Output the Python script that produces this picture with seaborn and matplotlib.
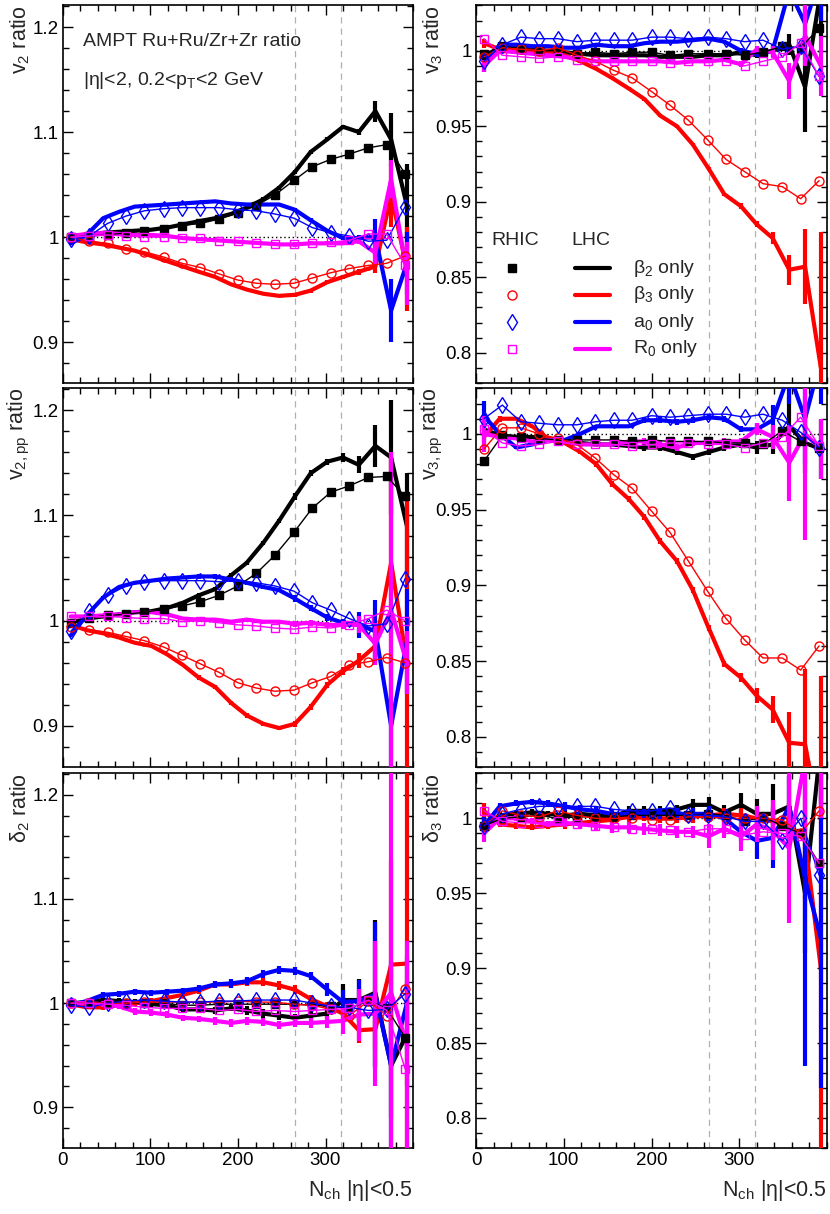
import matplotlib
matplotlib.use('Agg')
import matplotlib.pyplot as plt
from matplotlib.ticker import MultipleLocator, FormatStrFormatter
import seaborn as sns

# N_ch bin centres
x_rhic = [9, 30, 51, 72, 93, 115, 136, 157, 178, 200, 221, 242, 264, 285, 306, 327, 349, 370, 391]
x_lhc = [9, 27, 46, 64, 82, 101, 119, 137, 155, 174, 192, 210, 229, 247, 265, 283, 302, 320, 338, 357, 375, 393]

# ---- v2 ratio ----
v2_rhic_b2 = [1.000, 1.001, 1.002, 1.004, 1.006, 1.008, 1.011, 1.013, 1.017, 1.023, 1.030, 1.040, 1.054, 1.067, 1.074, 1.079, 1.085, 1.088, 1.060]
v2_rhic_b3 = [1.000, 0.996, 0.994, 0.989, 0.986, 0.981, 0.975, 0.971, 0.965, 0.959, 0.956, 0.955, 0.956, 0.961, 0.966, 0.970, 0.973, 0.975, 0.982]
v2_rhic_a0 = [0.998, 1.001, 1.013, 1.020, 1.025, 1.027, 1.028, 1.028, 1.028, 1.026, 1.025, 1.022, 1.018, 1.009, 1.004, 1.001, 0.996, 0.997, 1.029]
v2_rhic_r0 = [1.000, 1.001, 1.002, 1.001, 1.000, 1.000, 0.999, 0.999, 0.996, 0.996, 0.994, 0.993, 0.993, 0.994, 0.995, 0.997, 1.003, 1.003, 0.973]
v2_lhc_b2 = [1.000, 1.002, 1.004, 1.005, 1.006, 1.007, 1.009, 1.012, 1.015, 1.018, 1.022, 1.028, 1.036, 1.047, 1.062, 1.081, 1.093, 1.105, 1.100, 1.120, 1.093, 1.030]
v2_lhc_b3 = [0.998, 0.995, 0.993, 0.990, 0.987, 0.982, 0.977, 0.972, 0.967, 0.962, 0.955, 0.950, 0.946, 0.944, 0.945, 0.949, 0.957, 0.962, 0.967, 0.972, 1.040, 0.970]
v2_lhc_a0 = [0.994, 1.002, 1.018, 1.024, 1.029, 1.030, 1.031, 1.032, 1.033, 1.034, 1.032, 1.031, 1.031, 1.031, 1.026, 1.016, 1.006, 0.999, 0.999, 1.000, 0.930, 0.975]
v2_lhc_r0 = [1.001, 1.003, 1.004, 1.003, 1.002, 1.002, 1.001, 0.999, 0.998, 0.997, 0.996, 0.995, 0.994, 0.993, 0.993, 0.994, 0.994, 0.994, 0.996, 0.985, 1.055, 0.965]
v2_err_b2 = [.001, .001, .001, .001, .001, .001, .001, .001, .001, .001, .001, .001, .002, .002, .002, .002, .002, .002, .003, .010, .025, .040]
v2_err_b3 = [.001, .001, .001, .001, .001, .001, .001, .001, .001, .001, .001, .001, .001, .001, .002, .002, .002, .002, .003, .006, .030, .040]
v2_err_a0 = [.001, .001, .001, .001, .001, .001, .001, .001, .001, .001, .001, .001, .001, .001, .002, .002, .002, .002, .003, .017, .030, .030]
v2_err_r0 = [.001, .001, .001, .001, .001, .001, .001, .001, .001, .001, .001, .001, .001, .001, .002, .002, .002, .002, .003, .012, .018, .030]

# ---- v2,pp ratio ----
v2pp_rhic_b2 = [0.998, 1.003, 1.005, 1.006, 1.008, 1.011, 1.014, 1.018, 1.024, 1.033, 1.045, 1.062, 1.084, 1.107, 1.122, 1.128, 1.136, 1.137, 1.118]
v2pp_rhic_b3 = [0.994, 0.991, 0.989, 0.985, 0.981, 0.975, 0.967, 0.959, 0.951, 0.941, 0.936, 0.933, 0.934, 0.941, 0.947, 0.958, 0.961, 0.965, 0.960]
v2pp_rhic_a0 = [0.990, 1.009, 1.024, 1.033, 1.037, 1.038, 1.038, 1.038, 1.037, 1.038, 1.036, 1.033, 1.028, 1.017, 1.010, 1.002, 0.995, 0.997, 1.040]
v2pp_rhic_r0 = [1.004, 1.004, 1.004, 1.003, 1.002, 1.002, 0.999, 1.000, 0.998, 0.996, 0.995, 0.993, 0.992, 0.994, 0.993, 0.996, 1.002, 1.010, 1.000]
v2pp_lhc_b2 = [0.998, 1.002, 1.004, 1.006, 1.008, 1.009, 1.012, 1.017, 1.024, 1.030, 1.043, 1.055, 1.074, 1.095, 1.118, 1.140, 1.151, 1.155, 1.148, 1.166, 1.155, 1.090]
v2pp_lhc_b3 = [0.996, 0.991, 0.988, 0.984, 0.979, 0.976, 0.968, 0.958, 0.946, 0.937, 0.922, 0.910, 0.902, 0.898, 0.902, 0.918, 0.939, 0.952, 0.962, 0.976, 1.055, 0.960]
v2pp_lhc_a0 = [0.986, 1.005, 1.022, 1.032, 1.036, 1.038, 1.040, 1.041, 1.042, 1.042, 1.039, 1.036, 1.032, 1.029, 1.021, 1.012, 1.003, 0.998, 0.996, 0.990, 0.900, 0.980]
v2pp_lhc_r0 = [1.004, 1.004, 1.005, 1.006, 1.008, 1.008, 1.006, 1.002, 1.001, 1.001, 0.999, 1.001, 0.999, 0.999, 0.997, 0.998, 0.996, 0.996, 0.996, 0.978, 1.010, 0.960]
v2pp_err_b2 = [.001, .001, .001, .001, .001, .001, .001, .001, .002, .002, .002, .002, .002, .002, .003, .003, .003, .004, .008, .020, .055, .050]
v2pp_err_b3 = [.001, .001, .001, .001, .001, .001, .001, .001, .002, .002, .002, .002, .002, .002, .003, .003, .003, .004, .007, .012, .100, .160]
v2pp_err_a0 = [.001, .001, .001, .001, .001, .001, .001, .001, .002, .002, .002, .002, .002, .002, .003, .003, .003, .004, .012, .030, .060, .050]
v2pp_err_r0 = [.001, .001, .001, .001, .001, .001, .001, .001, .002, .002, .002, .002, .002, .002, .003, .003, .003, .004, .008, .020, .150, .030]

# ---- delta2 ratio ----
d2_rhic_b2 = [1.000, 1.000, 1.000, 1.000, 1.000, 1.000, 0.998, 0.998, 0.999, 0.999, 0.999, 0.999, 0.999, 0.998, 0.997, 0.995, 1.002, 0.995, 0.967]
d2_rhic_b3 = [1.000, 1.000, 1.000, 1.000, 1.001, 1.001, 1.001, 1.001, 1.001, 1.002, 1.001, 1.001, 0.999, 0.998, 0.994, 0.988, 1.002, 0.988, 1.014]
d2_rhic_a0 = [0.998, 0.996, 1.000, 1.002, 1.003, 1.002, 1.001, 1.001, 1.002, 1.002, 1.003, 1.003, 1.003, 1.000, 0.997, 0.996, 0.993, 0.994, 1.009]
d2_rhic_r0 = [1.000, 1.000, 0.999, 0.998, 0.996, 0.995, 0.995, 0.995, 0.993, 0.994, 0.992, 0.993, 0.992, 0.993, 0.994, 0.995, 1.003, 0.993, 0.937]
d2_lhc_b2 = [1.000, 1.001, 1.003, 1.002, 1.001, 0.999, 0.998, 0.994, 0.994, 0.993, 0.995, 0.993, 0.990, 0.988, 0.986, 0.988, 0.990, 1.003, 1.003, 1.010, 0.940, 0.970]
d2_lhc_b3 = [0.999, 0.996, 0.996, 0.998, 1.000, 1.002, 1.005, 1.008, 1.012, 1.018, 1.018, 1.020, 1.020, 1.017, 1.013, 1.004, 0.997, 0.990, 0.974, 0.975, 1.037, 1.038]
d2_lhc_a0 = [0.998, 1.002, 1.008, 1.009, 1.011, 1.010, 1.011, 1.012, 1.014, 1.018, 1.019, 1.021, 1.028, 1.032, 1.031, 1.026, 1.013, 1.001, 1.002, 1.008, 0.940, 1.000]
d2_lhc_r0 = [1.000, 1.000, 0.999, 0.997, 0.992, 0.991, 0.989, 0.986, 0.985, 0.983, 0.981, 0.983, 0.982, 0.979, 0.981, 0.981, 0.982, 0.983, 0.989, 0.990, 1.010, 0.960]
d2_err_b2 = [.002, .002, .003, .003, .003, .003, .003, .003, .003, .003, .003, .004, .004, .004, .004, .004, .004, .015, .020, .070, .050, .050]
d2_err_b3 = [.002, .002, .003, .003, .003, .003, .003, .003, .003, .003, .003, .004, .004, .004, .004, .004, .004, .006, .012, .020, .100, .250]
d2_err_a0 = [.002, .002, .003, .003, .003, .003, .003, .003, .003, .003, .004, .004, .004, .004, .004, .004, .006, .012, .020, .070, .100, .045]
d2_err_r0 = [.002, .002, .003, .003, .003, .003, .003, .003, .003, .004, .004, .004, .004, .004, .004, .005, .006, .013, .025, .070, .250, .100]

# ---- v3 ratio ----
v3_rhic_b2 = [0.998, 1.003, 1.001, 1.000, 1.000, 0.998, 0.999, 0.998, 0.999, 0.999, 0.997, 0.998, 0.998, 0.998, 0.997, 0.999, 1.003, 1.002, 1.015]
v3_rhic_b3 = [0.996, 1.002, 1.001, 1.000, 1.002, 0.997, 0.993, 0.987, 0.982, 0.973, 0.964, 0.954, 0.941, 0.928, 0.920, 0.912, 0.910, 0.902, 0.914]
v3_rhic_a0 = [0.993, 1.004, 1.009, 1.008, 1.008, 1.006, 1.007, 1.007, 1.007, 1.009, 1.009, 1.008, 1.009, 1.008, 1.006, 1.007, 1.001, 1.003, 0.983]
v3_rhic_r0 = [1.008, 0.997, 0.996, 0.995, 0.996, 0.994, 0.993, 0.993, 0.993, 0.993, 0.992, 0.993, 0.993, 0.993, 0.990, 0.993, 0.996, 1.005, 0.983]
v3_lhc_b2 = [0.995, 1.003, 1.002, 1.001, 1.000, 0.999, 0.998, 0.997, 0.997, 0.997, 0.997, 0.996, 0.996, 0.996, 0.997, 0.997, 0.999, 0.997, 1.000, 1.004, 0.976, 1.040]
v3_lhc_b3 = [1.005, 1.001, 1.000, 1.000, 0.999, 0.997, 0.993, 0.988, 0.982, 0.975, 0.968, 0.957, 0.950, 0.938, 0.922, 0.905, 0.897, 0.885, 0.876, 0.855, 0.857, 0.790]
v3_lhc_a0 = [0.990, 1.004, 1.004, 1.003, 1.003, 1.002, 1.002, 1.004, 1.003, 1.003, 1.005, 1.006, 1.006, 1.007, 1.008, 1.006, 1.000, 0.998, 1.000, 1.040, 1.018, 1.050]
v3_lhc_r0 = [0.990, 1.000, 0.999, 0.998, 0.997, 0.996, 0.994, 0.993, 0.993, 0.993, 0.993, 0.993, 0.992, 0.993, 0.993, 0.994, 0.991, 1.001, 0.999, 0.980, 1.010, 0.990]
v3_err_b2 = [.003, .001, .001, .001, .001, .001, .001, .001, .001, .001, .001, .001, .001, .001, .001, .001, .002, .002, .003, .007, .030, .030]
v3_err_b3 = [.003, .001, .001, .001, .001, .001, .001, .001, .001, .001, .001, .001, .001, .001, .001, .001, .002, .002, .004, .010, .025, .090]
v3_err_a0 = [.004, .001, .001, .001, .001, .001, .001, .001, .001, .001, .001, .001, .001, .001, .001, .001, .002, .002, .004, .010, .020, .030]
v3_err_r0 = [.004, .001, .001, .001, .001, .001, .001, .001, .001, .001, .001, .001, .001, .001, .001, .001, .002, .002, .004, .012, .020, .020]

# ---- v3,pp ratio ----
v3pp_rhic_b2 = [0.982, 0.999, 0.998, 0.997, 0.996, 0.996, 0.996, 0.996, 0.995, 0.996, 0.995, 0.995, 0.995, 0.994, 0.994, 0.993, 1.002, 0.995, 0.991]
v3pp_rhic_b3 = [0.990, 1.004, 1.004, 1.000, 0.997, 0.993, 0.984, 0.973, 0.964, 0.949, 0.935, 0.916, 0.896, 0.878, 0.864, 0.852, 0.852, 0.844, 0.860]
v3pp_rhic_a0 = [1.010, 1.019, 1.008, 1.007, 1.006, 1.006, 1.008, 1.009, 1.009, 1.012, 1.011, 1.012, 1.013, 1.013, 1.011, 1.013, 1.009, 1.001, 0.991]
v3pp_rhic_r0 = [1.003, 0.994, 0.992, 0.993, 0.995, 0.993, 0.993, 0.993, 0.992, 0.993, 0.994, 0.994, 0.993, 0.993, 0.991, 0.994, 0.998, 1.011, 0.992]
v3pp_lhc_b2 = [1.003, 0.999, 0.998, 0.998, 0.996, 0.995, 0.994, 0.993, 0.993, 0.992, 0.991, 0.991, 0.988, 0.985, 0.988, 0.991, 0.993, 0.991, 0.993, 1.005, 0.994, 0.990]
v3pp_lhc_b3 = [0.998, 1.010, 1.010, 1.005, 0.997, 0.994, 0.988, 0.980, 0.967, 0.957, 0.945, 0.929, 0.916, 0.897, 0.872, 0.848, 0.839, 0.827, 0.818, 0.796, 0.795, 0.740]
v3pp_lhc_a0 = [1.012, 1.000, 0.991, 0.993, 0.996, 0.996, 1.000, 1.005, 1.005, 1.005, 1.009, 1.009, 1.008, 1.009, 1.011, 1.010, 1.003, 1.003, 1.009, 1.040, 1.010, 1.050]
v3pp_lhc_r0 = [1.000, 0.998, 0.997, 0.995, 0.996, 0.995, 0.993, 0.993, 0.993, 0.995, 0.995, 0.993, 0.991, 0.994, 0.994, 0.995, 0.995, 1.003, 0.998, 0.981, 1.000, 0.990]
v3pp_err_b2 = [.004, .001, .001, .001, .001, .001, .001, .001, .001, .001, .002, .002, .002, .002, .002, .002, .002, .004, .006, .020, .020, .020]
v3pp_err_b3 = [.006, .002, .001, .001, .001, .001, .001, .002, .002, .002, .002, .002, .002, .002, .002, .002, .003, .005, .009, .020, .050, .100]
v3pp_err_a0 = [.010, .002, .001, .001, .001, .001, .001, .001, .001, .001, .002, .002, .002, .002, .002, .002, .002, .004, .010, .020, .030, .030]
v3pp_err_r0 = [.012, .002, .001, .001, .001, .001, .001, .001, .001, .001, .002, .002, .002, .002, .002, .002, .002, .004, .008, .025, .070, .020]

# ---- delta3 ratio ----
d3_rhic_b2 = [0.995, 1.000, 1.001, 1.002, 1.000, 1.001, 1.001, 1.001, 1.002, 1.002, 1.002, 1.002, 1.003, 1.002, 0.998, 1.001, 0.995, 0.990, 0.970]
d3_rhic_b3 = [0.995, 1.005, 1.002, 1.001, 1.005, 1.002, 1.000, 1.000, 1.000, 0.999, 0.999, 1.001, 1.001, 1.000, 1.000, 1.000, 0.999, 0.990, 1.005]
d3_rhic_a0 = [0.995, 1.003, 1.006, 1.008, 1.008, 1.008, 1.008, 1.006, 1.005, 1.005, 1.007, 1.002, 1.002, 1.001, 0.998, 0.998, 0.985, 1.000, 0.962]
d3_rhic_r0 = [1.005, 0.998, 0.997, 0.997, 0.998, 0.996, 0.995, 0.994, 0.993, 0.993, 0.992, 0.991, 0.993, 0.993, 0.989, 0.991, 0.990, 0.988, 0.970]
d3_lhc_b2 = [0.995, 1.002, 1.003, 1.004, 1.003, 1.002, 1.003, 1.002, 1.001, 1.005, 1.005, 1.005, 1.006, 1.009, 1.009, 1.004, 1.009, 1.003, 1.003, 1.008, 0.950, 1.050]
d3_lhc_b3 = [1.005, 0.996, 0.995, 0.994, 0.995, 0.996, 0.997, 0.998, 0.999, 1.001, 1.001, 1.000, 1.000, 1.001, 1.002, 1.003, 1.002, 1.000, 0.998, 0.995, 0.985, 0.900]
d3_lhc_a0 = [0.995, 1.008, 1.010, 1.011, 1.010, 1.008, 1.006, 1.005, 1.003, 1.003, 1.003, 1.003, 1.003, 1.003, 1.003, 1.000, 0.991, 0.985, 0.987, 1.008, 0.960, 0.920]
d3_lhc_r0 = [0.990, 1.000, 1.000, 0.998, 0.996, 0.997, 0.996, 0.995, 0.994, 0.994, 0.993, 0.992, 0.991, 0.991, 0.988, 0.993, 0.988, 0.996, 0.992, 0.980, 1.040, 1.050]
d3_err_b2 = [.004, .002, .002, .002, .002, .003, .003, .003, .003, .003, .003, .003, .003, .004, .005, .005, .008, .010, .020, .020, .040, .040]
d3_err_b3 = [.005, .002, .002, .002, .002, .003, .003, .003, .003, .003, .003, .003, .003, .004, .004, .004, .005, .006, .010, .015, .040, .150]
d3_err_a0 = [.006, .002, .002, .002, .002, .003, .003, .003, .003, .003, .003, .004, .004, .004, .005, .005, .006, .012, .020, .020, .125, .100]
d3_err_r0 = [.006, .002, .002, .002, .002, .003, .003, .003, .004, .004, .004, .004, .004, .004, .008, .006, .010, .012, .020, .050, .050, .050]

labels = ['β$_2$ only', 'β$_3$ only', 'a$_0$ only', 'R$_0$ only']
colors = ['black', 'red', 'blue', 'magenta']
markers = ['s', 'o', 'd', 's']
msizes = [5.5, 6.5, 8.5, 5.5]
facecols = ['black', 'none', 'none', 'none']

sns.set_theme(style='white')
plt.rcParams['font.family'] = ['Liberation Sans', 'DejaVu Sans']
plt.rcParams['mathtext.fontset'] = 'custom'
plt.rcParams['mathtext.rm'] = 'Liberation Sans'
plt.rcParams['mathtext.it'] = 'Liberation Sans'
plt.rcParams['mathtext.default'] = 'regular'

fig = plt.figure(figsize=(8.3, 12.14), dpi=100)
col_x = [0.0759, 0.5735]
col_w = [0.4217, 0.4229]
row_y = [0.6845, 0.3682, 0.0544]
row_h = [0.3114, 0.3122, 0.3089]

panels = [
    (0, 0, 'v$_2$ ratio', [v2_rhic_b2, v2_rhic_b3, v2_rhic_a0, v2_rhic_r0],
     [v2_lhc_b2, v2_lhc_b3, v2_lhc_a0, v2_lhc_r0], [v2_err_b2, v2_err_b3, v2_err_a0, v2_err_r0]),
    (1, 0, 'v$_{2,pp}$ ratio', [v2pp_rhic_b2, v2pp_rhic_b3, v2pp_rhic_a0, v2pp_rhic_r0],
     [v2pp_lhc_b2, v2pp_lhc_b3, v2pp_lhc_a0, v2pp_lhc_r0], [v2pp_err_b2, v2pp_err_b3, v2pp_err_a0, v2pp_err_r0]),
    (2, 0, 'δ$_2$ ratio', [d2_rhic_b2, d2_rhic_b3, d2_rhic_a0, d2_rhic_r0],
     [d2_lhc_b2, d2_lhc_b3, d2_lhc_a0, d2_lhc_r0], [d2_err_b2, d2_err_b3, d2_err_a0, d2_err_r0]),
    (0, 1, 'v$_3$ ratio', [v3_rhic_b2, v3_rhic_b3, v3_rhic_a0, v3_rhic_r0],
     [v3_lhc_b2, v3_lhc_b3, v3_lhc_a0, v3_lhc_r0], [v3_err_b2, v3_err_b3, v3_err_a0, v3_err_r0]),
    (1, 1, 'v$_{3,pp}$ ratio', [v3pp_rhic_b2, v3pp_rhic_b3, v3pp_rhic_a0, v3pp_rhic_r0],
     [v3pp_lhc_b2, v3pp_lhc_b3, v3pp_lhc_a0, v3pp_lhc_r0], [v3pp_err_b2, v3pp_err_b3, v3pp_err_a0, v3pp_err_r0]),
    (2, 1, 'δ$_3$ ratio', [d3_rhic_b2, d3_rhic_b3, d3_rhic_a0, d3_rhic_r0],
     [d3_lhc_b2, d3_lhc_b3, d3_lhc_a0, d3_lhc_r0], [d3_err_b2, d3_err_b3, d3_err_a0, d3_err_r0]),
]

axes = {}
for row, col, ylab, rhic, lhc, errs in panels:
    ax = fig.add_axes([col_x[col], row_y[row], col_w[col], row_h[row]])
    axes[(row, col)] = ax
    ax.axhline(1.0, color='black', ls=(0, (1, 2)), lw=1.0, zorder=1)
    for xv in [265, 318]:
        ax.axvline(xv, color='#b0b0b0', ls=(0, (5, 4)), lw=0.9, zorder=1)

    for i in range(4):
        sns.lineplot(x=x_lhc, y=lhc[i], ax=ax, color=colors[i], lw=3.0,
                     sort=False, errorbar=None, zorder=3)
        ax.errorbar(x_lhc, lhc[i], yerr=errs[i], fmt='none', ecolor=colors[i],
                    elinewidth=3.0, capsize=0, zorder=3)
        sns.lineplot(x=x_rhic, y=rhic[i], ax=ax, color=colors[i], lw=1.0,
                     sort=False, errorbar=None, marker=markers[i], markersize=msizes[i],
                     markerfacecolor=facecols[i], markeredgecolor=colors[i],
                     markeredgewidth=1.0, zorder=4)

    ax.set_xlim(0, 400)
    if col == 0:
        ax.set_ylim(0.861, 1.221)
        ax.yaxis.set_major_locator(MultipleLocator(0.1))
        ax.yaxis.set_minor_locator(MultipleLocator(0.02))
    else:
        ax.set_ylim(0.78, 1.0303)
        ax.yaxis.set_major_locator(MultipleLocator(0.05))
        ax.yaxis.set_minor_locator(MultipleLocator(0.01))
    ax.yaxis.set_major_formatter(FormatStrFormatter('%g'))
    ax.set_xticks([0, 100, 200, 300])
    ax.xaxis.set_minor_locator(MultipleLocator(20))

    ax.tick_params(which='both', direction='in', top=True, right=True, bottom=True, left=True,
                   width=1.0, colors='black', labelsize=13.5, pad=3)
    ax.tick_params(which='major', length=7.5)
    ax.tick_params(which='minor', length=4)
    for sp in ax.spines.values():
        sp.set_color('black')
        sp.set_linewidth(1.2)

    ax.set_ylabel(ylab, fontsize=15.5, loc='top')
    ax.yaxis.set_label_coords(-0.088, 1.0)
    if row == 2:
        ax.set_xlabel('N$_{ch}$ |η|<0.5', fontsize=15.5, loc='right')
        ax.xaxis.set_label_coords(1.0, -0.08)
    else:
        ax.set_xlabel('')
        ax.tick_params(labelbottom=False)

ax = axes[(0, 0)]
ax.text(0.056, 0.903, 'AMPT Ru+Ru/Zr+Zr ratio', transform=ax.transAxes,
        fontsize=14, va='center', ha='left')
ax.text(0.056, 0.80, '|η|<2, 0.2<p$_T$<2 GeV', transform=ax.transAxes,
        fontsize=14, va='center', ha='left')

# legend in the v3 panel
ax = axes[(0, 1)]
ax.text(0.043, 0.378, 'RHIC', transform=ax.transAxes, fontsize=14, va='center', ha='left')
ax.text(0.271, 0.378, 'LHC', transform=ax.transAxes, fontsize=14, va='center', ha='left')
rows_y = [0.304, 0.233, 0.161, 0.09]
for i in range(4):
    ax.plot([0.1026], [rows_y[i]], transform=ax.transAxes, marker=markers[i],
            markersize=msizes[i], markerfacecolor=facecols[i], markeredgecolor=colors[i],
            markeredgewidth=1.0, ls='none')
    ax.plot([0.282, 0.382], [rows_y[i], rows_y[i]], transform=ax.transAxes,
            color=colors[i], lw=3.0)
    ax.text(0.447, rows_y[i], labels[i], transform=ax.transAxes, fontsize=14,
            va='center', ha='left')

fig.savefig('out.png', dpi=100)
